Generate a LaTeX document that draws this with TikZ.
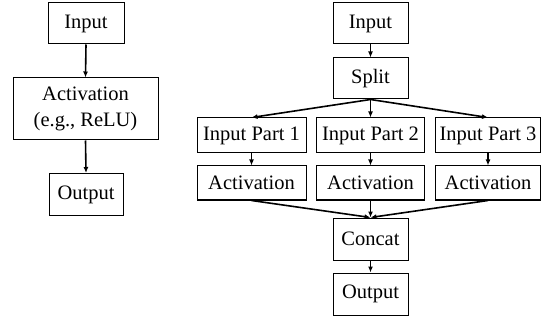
\documentclass[tikz,border=0pt]{standalone}
\usepackage{fontspec}
\setmainfont{Liberation Serif}
\usetikzlibrary{arrows.meta}
\begin{document}
\begin{tikzpicture}[x=1pt,y=-1pt,
  box/.style={draw=black, line width=1pt, inner sep=0pt, anchor=center, align=center,
    font=\fontsize{20.5}{26}\selectfont},
  arr/.style={-{Latex[length=6pt,width=5pt]}, line width=1.6pt}]
\useasboundingbox (0,0) rectangle (545,320);
% left
\node[box, minimum width=76pt, minimum height=41pt] (in1) at (86,23.5) {Input};
\node[box, minimum width=145pt, minimum height=62pt] (act1) at (85.5,109) {Activation\\(e.g., ReLU)};
\node[box, minimum width=74pt, minimum height=42pt] (out1) at (86,194.5) {Output};
\draw[arr] (in1.south) -- (act1.north);
\draw[arr] (act1.south) -- (out1.north);
% right
\node[box, minimum width=75pt, minimum height=41pt] (in2) at (370.5,23.5) {Input};
\node[box, minimum width=75pt, minimum height=41pt] (split) at (370.5,78.5) {Split};
\node[box, minimum width=109pt, minimum height=35pt] (p1) at (251.5,135.5) {Input Part 1};
\node[box, minimum width=108pt, minimum height=35pt] (p2) at (370.5,135.5) {Input Part 2};
\node[box, minimum width=105pt, minimum height=35pt] (p3) at (488,135.5) {Input Part 3};
\node[box, minimum width=109pt, minimum height=34pt] (a1) at (251.5,183) {Activation};
\node[box, minimum width=108pt, minimum height=34pt] (a2) at (370.5,183) {Activation};
\node[box, minimum width=105pt, minimum height=34pt] (a3) at (488,183) {Activation};
\node[box, minimum width=75pt, minimum height=42pt] (concat) at (370.5,239) {Concat};
\node[box, minimum width=75pt, minimum height=42pt] (out2) at (370.5,294) {Output};
\draw[arr] (in2.south) -- (split.north);
\draw[arr] (split.south) -- (p1.north);
\draw[arr] (split.south) -- (p2.north);
\draw[arr] (split.south) -- (p3.north);
\draw[arr] (p1.south) -- (a1.north);
\draw[arr] (p2.south) -- (a2.north);
\draw[arr] (p3.south) -- (a3.north);
\draw[arr] (a1.south) -- (concat.north);
\draw[arr] (a2.south) -- (concat.north);
\draw[arr] (a3.south) -- (concat.north);
\draw[arr] (concat.south) -- (out2.north);
\end{tikzpicture}
\end{document}
